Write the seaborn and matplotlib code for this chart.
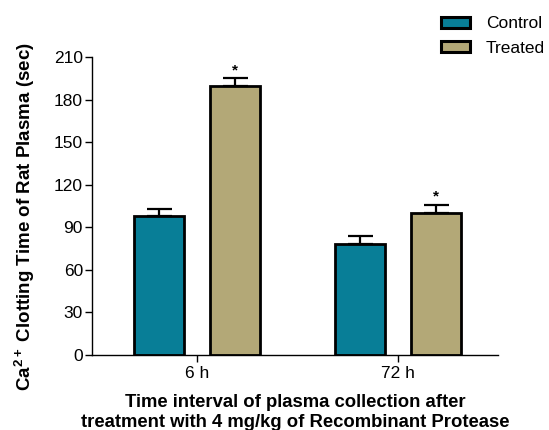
import matplotlib
matplotlib.use("Agg")
import matplotlib.pyplot as plt
import seaborn as sns
import pandas as pd
from matplotlib.patches import Patch

# Clotting time data (mean and SEM, seconds)
time_points = ["6 h", "72 h"]
groups = ["Control", "Treated"]
control_mean = [98, 78]
treated_mean = [190, 100]
control_sem = [5, 6]
treated_sem = [5, 6]
significant = {"Control": [False, False], "Treated": [True, True]}
y_ticks = [0, 30, 60, 90, 120, 150, 180, 210]

colors = {"Control": "#087e97", "Treated": "#b3a877"}

df = pd.DataFrame({
    "time": time_points * 2,
    "group": ["Control"] * 2 + ["Treated"] * 2,
    "value": control_mean + treated_mean,
    "sem": control_sem + treated_sem,
})

sns.set_theme(style="ticks")
plt.rcParams["font.family"] = ["Liberation Sans", "DejaVu Sans"]
plt.rcParams["mathtext.fontset"] = "custom"
plt.rcParams["mathtext.rm"] = "Liberation Sans"
plt.rcParams["mathtext.bf"] = "Liberation Sans:bold"
plt.rcParams["mathtext.default"] = "bf"
plt.rcParams["text.color"] = "black"
plt.rcParams["axes.labelcolor"] = "black"

fig = plt.figure(figsize=(5.49, 4.30), dpi=100)
ax = fig.add_axes([0.1676, 0.1744, 0.7395, 0.6926])

sns.barplot(data=df, x="time", y="value", hue="group", order=time_points,
            hue_order=groups, palette=colors, saturation=1, width=0.756, gap=0.34,
            edgecolor="black", linewidth=2.0, errorbar=None, legend=False, ax=ax)

# Upward-only error bars and significance marks
bars = ax.patches
for i, g in enumerate(groups):
    sub = df[df["group"] == g].set_index("time").loc[time_points]
    for j, t in enumerate(time_points):
        b = bars[i * len(time_points) + j]
        xc = b.get_x() + b.get_width() / 2
        val = sub.loc[t, "value"]
        err = sub.loc[t, "sem"]
        ax.errorbar(xc, val, yerr=[[0], [err]], fmt="none", ecolor="black",
                    elinewidth=1.6, capsize=9, capthick=1.6, zorder=1)
        if significant[g][j]:
            ax.text(xc, val + err + 1.0, "*", ha="center", va="bottom",
                    fontsize=11, fontweight="bold", color="black")

ax.set_ylim(0, 210)
ax.set_yticks(y_ticks)
ax.set_xlim(-0.523, 1.497)
ax.tick_params(axis="both", direction="out", length=5, width=1.0,
               labelsize=12.5, colors="black", pad=1.5)
ax.tick_params(axis="x", pad=3)
for s in ["top", "right"]:
    ax.spines[s].set_visible(False)
for s in ["left", "bottom"]:
    ax.spines[s].set_linewidth(1.0)
    ax.spines[s].set_color("black")

ax.set_xlabel("Time interval of plasma collection after\ntreatment with 4 mg/kg of Recombinant Protease",
              fontsize=13.3, fontweight="bold", labelpad=9, linespacing=1.25)
ax.set_ylabel("Ca$^{2+}$ Clotting Time of Rat Plasma (sec)",
              fontsize=13.5, fontweight="bold")
ax.yaxis.set_label_coords(-0.135, 0.466)

handles = [Patch(facecolor=colors[g], edgecolor="black", linewidth=2.2,
                 joinstyle="round", label=g)
           for g in groups]
fig.legend(handles=handles, loc="upper left", bbox_to_anchor=(0.782, 0.99),
           frameon=False, fontsize=12.5, handlelength=1.65, handleheight=0.6,
           handletextpad=0.9, labelspacing=0.55, borderaxespad=0.3)

fig.savefig("out.png", dpi=100)
